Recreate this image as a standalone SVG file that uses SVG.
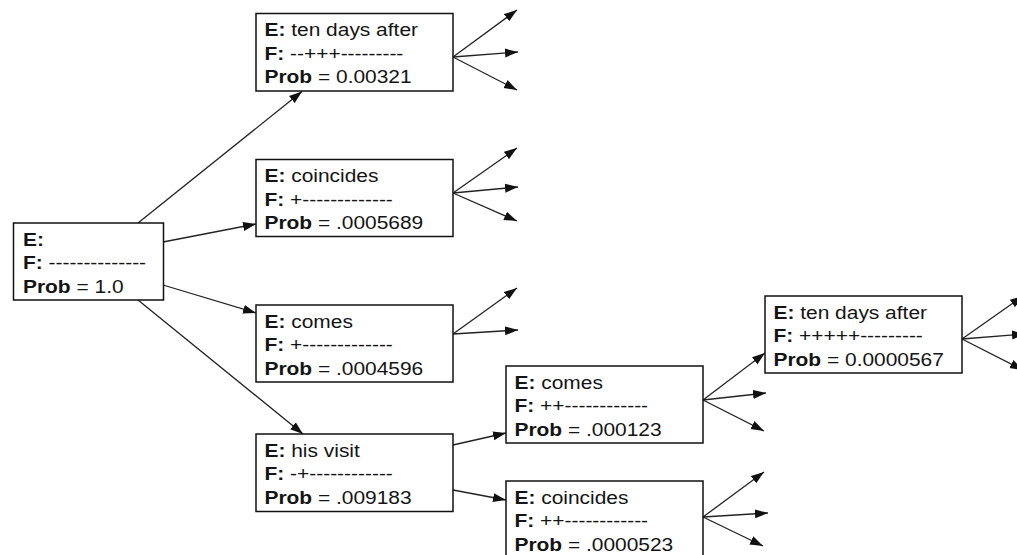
<svg xmlns="http://www.w3.org/2000/svg" width="1017" height="555" viewBox="0 0 1017 555">
<style>
  rect.box { fill: #fff; stroke: #111; stroke-width: 1.5; }
  text { font-family: "Liberation Sans", Arial, sans-serif; font-size: 17.5px; fill: #141414; }
  .b { font-weight: bold; }
  #connectors line { stroke: #222; stroke-width: 1.3; marker-end: url(#ah); }
</style>
<defs>
  <marker id="ah" markerUnits="userSpaceOnUse" markerWidth="14" markerHeight="10" refX="13" refY="5" orient="auto">
    <path d="M0,0.5 L13,5 L0,9.5 z" fill="#111"/>
  </marker>
</defs>
<rect width="1017" height="555" fill="#fff"/>
<g id="connectors">
  <line x1="138" y1="223" x2="302" y2="91.5"/>
  <line x1="163" y1="242" x2="256" y2="224"/>
  <line x1="163" y1="285" x2="256" y2="313"/>
  <line x1="138" y1="300" x2="303" y2="434"/>
  <line x1="453" y1="445" x2="506" y2="433"/>
  <line x1="453" y1="490" x2="506" y2="500"/>
  <line x1="703" y1="400" x2="765" y2="353"/>
  <line x1="453" y1="57" x2="517" y2="10"/>
  <line x1="453" y1="57" x2="518" y2="52"/>
  <line x1="453" y1="57" x2="517" y2="90"/>
  <line x1="453" y1="193" x2="517" y2="148"/>
  <line x1="453" y1="193" x2="518" y2="187"/>
  <line x1="453" y1="193" x2="517" y2="221"/>
  <line x1="453" y1="334" x2="517" y2="288"/>
  <line x1="453" y1="334" x2="518" y2="330"/>
  <line x1="703" y1="400" x2="766" y2="393"/>
  <line x1="703" y1="400" x2="764" y2="431"/>
  <line x1="703" y1="517" x2="764" y2="472"/>
  <line x1="703" y1="517" x2="768" y2="513"/>
  <line x1="703" y1="517" x2="763" y2="546"/>
  <line x1="962" y1="339" x2="1023" y2="296"/>
  <line x1="962" y1="339" x2="1025" y2="334"/>
  <line x1="962" y1="339" x2="1023" y2="370"/>
</g>
<g id="n-root">
  <rect class="box" x="13.5" y="223" width="150" height="77"/>
  <g transform="translate(23,223) scale(1.196,1)">
    <text y="23.5"><tspan class="b">E:</tspan></text>
    <text y="46.5"><tspan class="b">F:</tspan> --------------</text>
    <text y="70"><tspan class="b">Prob</tspan> = 1.0</text>
  </g>
</g>
<g id="n-ten-days-after">
  <rect class="box" x="256" y="13.5" width="197" height="77.5"/>
  <g transform="translate(264.5,13.5) scale(1.196,1)">
    <text y="23"><tspan class="b">E:</tspan> ten days after</text>
    <text y="46.5"><tspan class="b">F:</tspan> --+++---------</text>
    <text y="70"><tspan class="b">Prob</tspan> = 0.00321</text>
  </g>
</g>
<g id="n-coincides">
  <rect class="box" x="256" y="159.5" width="197" height="77"/>
  <g transform="translate(264.5,159.5) scale(1.196,1)">
    <text y="23"><tspan class="b">E:</tspan> coincides</text>
    <text y="46.5"><tspan class="b">F:</tspan> +-------------</text>
    <text y="70"><tspan class="b">Prob</tspan> = .0005689</text>
  </g>
</g>
<g id="n-comes">
  <rect class="box" x="256" y="305" width="197" height="77"/>
  <g transform="translate(264.5,305) scale(1.196,1)">
    <text y="23"><tspan class="b">E:</tspan> comes</text>
    <text y="46.5"><tspan class="b">F:</tspan> +-------------</text>
    <text y="70"><tspan class="b">Prob</tspan> = .0004596</text>
  </g>
</g>
<g id="n-his-visit">
  <rect class="box" x="256" y="434" width="197" height="77.5"/>
  <g transform="translate(264.5,434) scale(1.196,1)">
    <text y="23"><tspan class="b">E:</tspan> his visit</text>
    <text y="46.5"><tspan class="b">F:</tspan> -+------------</text>
    <text y="70"><tspan class="b">Prob</tspan> = .009183</text>
  </g>
</g>
<g id="n-comes-2">
  <rect class="box" x="506" y="366" width="197" height="77"/>
  <g transform="translate(514.5,366) scale(1.196,1)">
    <text y="23"><tspan class="b">E:</tspan> comes</text>
    <text y="46.5"><tspan class="b">F:</tspan> ++------------</text>
    <text y="70"><tspan class="b">Prob</tspan> = .000123</text>
  </g>
</g>
<g id="n-coincides-2">
  <rect class="box" x="506" y="481" width="197" height="77"/>
  <g transform="translate(514.5,481) scale(1.196,1)">
    <text y="23"><tspan class="b">E:</tspan> coincides</text>
    <text y="46.5"><tspan class="b">F:</tspan> ++------------</text>
    <text y="70"><tspan class="b">Prob</tspan> = .0000523</text>
  </g>
</g>
<g id="n-ten-days-after-2">
  <rect class="box" x="765" y="296" width="197" height="77"/>
  <g transform="translate(773.5,296) scale(1.196,1)">
    <text y="23"><tspan class="b">E:</tspan> ten days after</text>
    <text y="46.5"><tspan class="b">F:</tspan> +++++---------</text>
    <text y="70"><tspan class="b">Prob</tspan> = 0.0000567</text>
  </g>
</g>
</svg>
